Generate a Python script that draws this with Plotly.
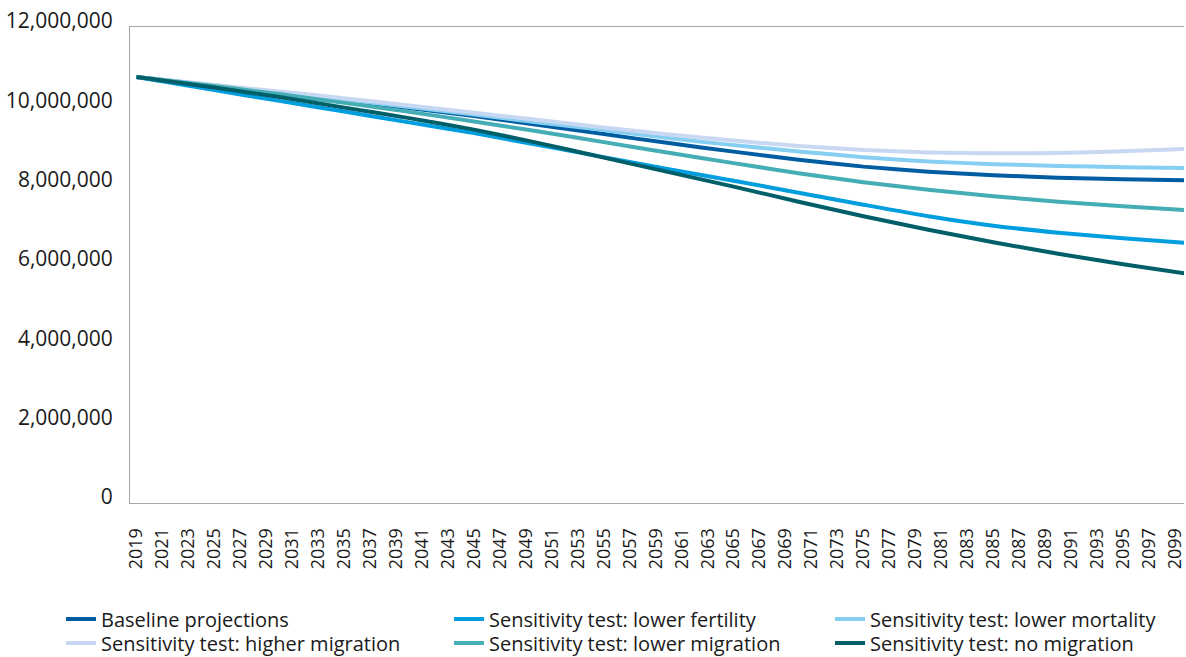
import plotly.graph_objects as go

# Projection years sampled along the curves
years = [2019, 2025, 2030, 2035, 2040, 2045, 2050, 2055, 2060,
         2065, 2070, 2075, 2080, 2085, 2090, 2095, 2100]

# Population (persons) per scenario
baseline = [10738000, 10519000, 10334000, 10145000, 9956000, 9754000, 9527000, 9300000,
            9073000, 8858000, 8656000, 8480000, 8353000, 8265000, 8202000, 8159000, 8132000]
lower_fertility = [10738000, 10410000, 10138000, 9868000, 9595000, 9325000, 9022000, 8719000,
                   8416000, 8126000, 7823000, 7521000, 7230000, 6991000, 6814000, 6675000, 6554000]
lower_mortality = [10738000, 10524000, 10352000, 10168000, 9981000, 9792000, 9595000, 9401000,
                   9199000, 9022000, 8863000, 8719000, 8611000, 8543000, 8498000, 8467000, 8442000]
higher_migration = [10738000, 10536000, 10375000, 10203000, 10024000, 9840000, 9653000, 9469000,
                    9292000, 9136000, 9002000, 8901000, 8838000, 8815000, 8825000, 8866000, 8931000]
lower_migration = [10738000, 10511000, 10309000, 10087000, 9860000, 9620000, 9363000, 9098000,
                   8828000, 8568000, 8315000, 8088000, 7899000, 7735000, 7596000, 7483000, 7382000]
no_migration = [10738000, 10473000, 10233000, 9968000, 9703000, 9413000, 9073000, 8707000,
                8341000, 7975000, 7596000, 7230000, 6890000, 6574000, 6284000, 6019000, 5779000]

series_names = [
    "Baseline projections",
    "Sensitivity test: lower fertility",
    "Sensitivity test: lower mortality",
    "Sensitivity test: higher migration",
    "Sensitivity test: lower migration",
    "Sensitivity test: no migration",
]
series_values = [baseline, lower_fertility, lower_mortality,
                 higher_migration, lower_migration, no_migration]
series_colors = ["#005da2", "#009ddf", "#87cff2", "#c9d8f2", "#45adb5", "#005f68"]

tick_years = list(range(2019, 2100, 2))
y_ticks = list(range(0, 12000001, 2000000))

W, H = 1186, 657
FONT = "Open Sans"
TEXT = "#1a1a1a"

fig = go.Figure()

# legend slots: (text-left px, row-center px) in a 3x2 grid
legend_slots = [(101, 619), (489, 619), (870, 619),
                (101, 643), (489, 643), (870, 643)]

for i, (name, vals, col) in enumerate(zip(series_names, series_values, series_colors)):
    lg = "legend" if i == 0 else f"legend{i+1}"
    fig.add_trace(go.Scatter(
        x=years, y=vals, name=name, mode="lines",
        line=dict(color=col, width=4, shape="spline", smoothing=0.6),
        legend=lg, showlegend=True, hoverinfo="x+y+name",
    ))

legends = {}
for i, (tx, ty) in enumerate(legend_slots):
    key = "legend" if i == 0 else f"legend{i+1}"
    legends[key] = dict(
        xref="container", yref="container",
        x=(tx - 40) / W, y=1 - ty / H,
        xanchor="left", yanchor="middle",
        orientation="h", bgcolor="rgba(0,0,0,0)", borderwidth=0,
        font=dict(family=FONT, size=20, color=TEXT),
        itemclick=False, itemdoubleclick=False,
    )

fig.update_layout(
    width=W, height=H,
    margin=dict(l=130, r=0, t=27, b=154),
    paper_bgcolor="white", plot_bgcolor="white",
    font=dict(family=FONT, color=TEXT),
    **legends,
)

fig.update_xaxes(
    range=[2018.5, 2018.5 + (W - 130.5) / 13],
    tickmode="array", tickvals=tick_years, ticktext=[str(y) for y in tick_years],
    tickangle=-90, tickfont=dict(family=FONT, size=18, color=TEXT),
    showgrid=False, zeroline=False,
    showline=True, linecolor="#a6a6a6", linewidth=1, mirror=True,
    ticks="", ticklabelstandoff=17, ticklabeloverflow="allow",
)
fig.update_yaxes(
    range=[0, 12000000],
    tickmode="array", tickvals=y_ticks, tickformat=",d",
    tickfont=dict(family=FONT, size=21, color=TEXT),
    showgrid=False, zeroline=False,
    showline=True, linecolor="#a6a6a6", linewidth=1,
    ticks="", ticklabelstandoff=12, ticklabelshift=-6,
)

fig.write_html("out.html")
